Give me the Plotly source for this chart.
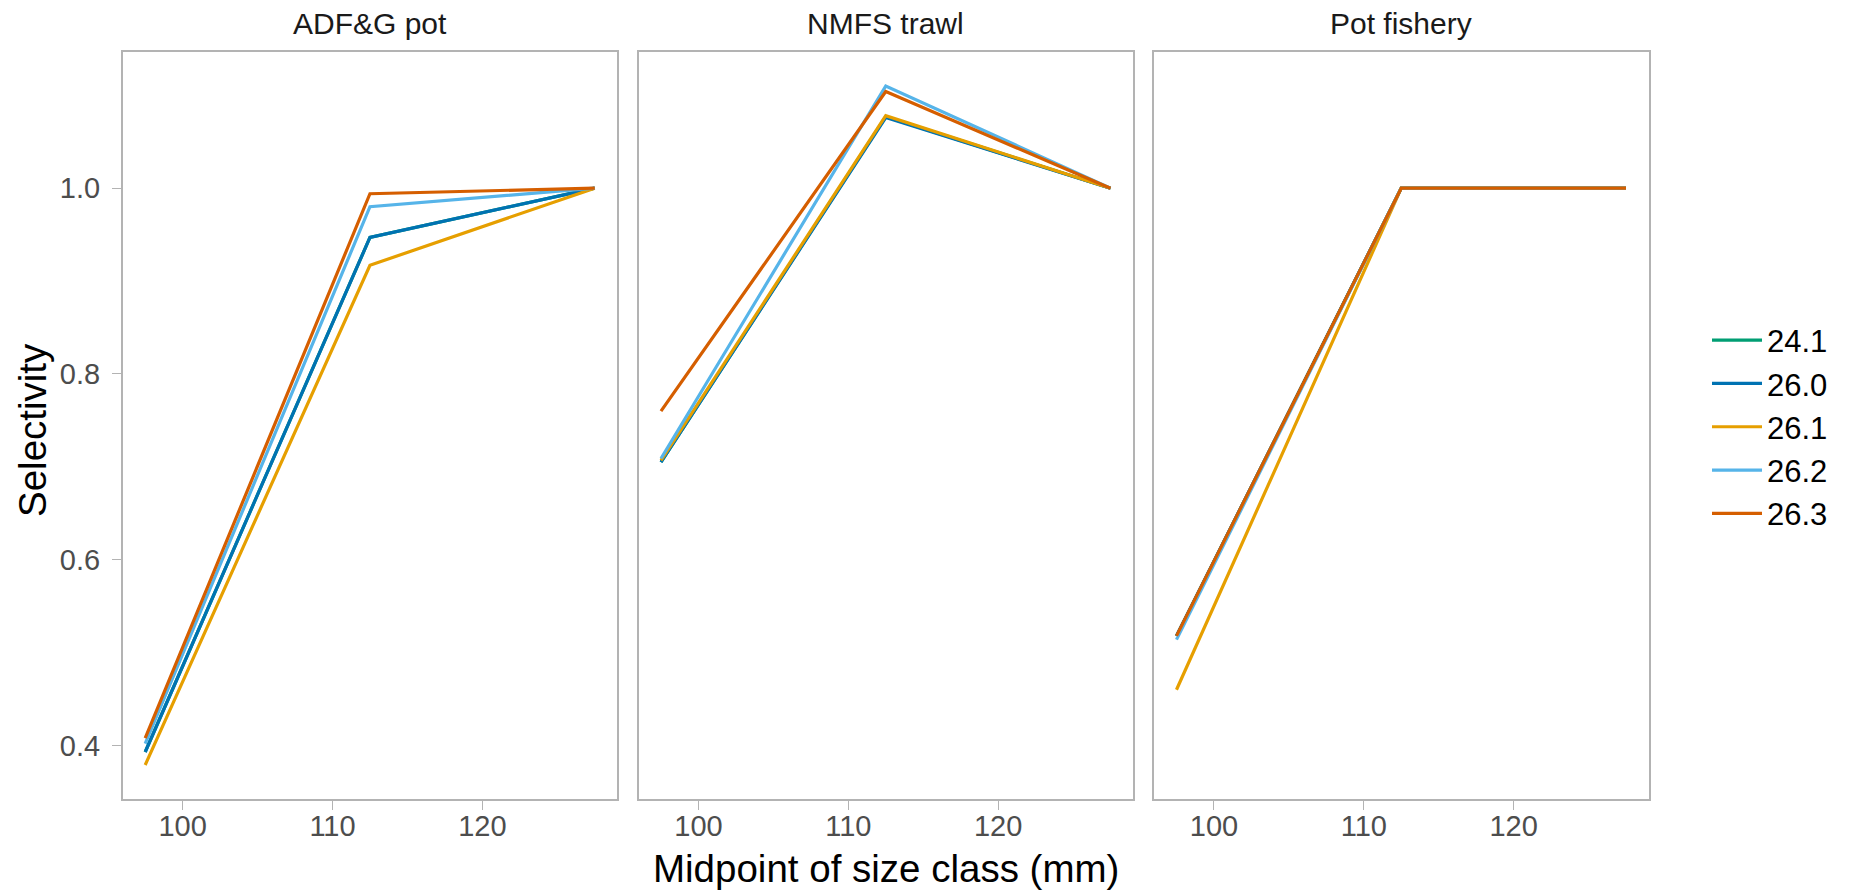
import plotly.graph_objects as go

# ---- data ----
size_mid = [97.5, 112.5, 127.5]
panels = ["ADF&G pot", "NMFS trawl", "Pot fishery"]
models = ["24.1", "26.0", "26.1", "26.2", "26.3"]
colors = ["#009E73", "#0072B2", "#E69F00", "#56B4E9", "#D55E00"]

adfg_241 = [0.393, 0.947, 1.0]
adfg_260 = [0.393, 0.947, 1.0]
adfg_261 = [0.379, 0.917, 1.0]
adfg_262 = [0.402, 0.980, 1.0]
adfg_263 = [0.408, 0.994, 1.0]

nmfs_241 = [0.705, 1.077, 1.0]
nmfs_260 = [0.705, 1.076, 1.0]
nmfs_261 = [0.707, 1.078, 1.0]
nmfs_262 = [0.709, 1.110, 1.0]
nmfs_263 = [0.760, 1.104, 1.0]

pot_241 = [0.518, 1.0, 1.0]
pot_260 = [0.518, 1.0, 1.0]
pot_261 = [0.460, 1.0, 1.0]
pot_262 = [0.514, 1.0, 1.0]
pot_263 = [0.518, 1.0, 1.0]

x_ticks = [100, 110, 120]
y_ticks = [0.4, 0.6, 0.8, 1.0]
y_ticklabels = ["0.4", "0.6", "0.8", "1.0"]

panel_data = [
    [adfg_241, adfg_260, adfg_261, adfg_262, adfg_263],
    [nmfs_241, nmfs_260, nmfs_261, nmfs_262, nmfs_263],
    [pot_241, pot_260, pot_261, pot_262, pot_263],
]

# ---- layout geometry ----
W, H = 1850, 894
FONT = "Liberation Sans, Arial, Helvetica, sans-serif"
px_left = [122.7, 638.5, 1154.0]
px_w = 494.5
py_top, py_bot = 52, 799

fig = go.Figure()
for p, series in enumerate(panel_data):
    xa = "x" if p == 0 else f"x{p+1}"
    ya = "y" if p == 0 else f"y{p+1}"
    for m, vals in enumerate(series):
        fig.add_trace(go.Scatter(
            x=size_mid, y=vals, mode="lines",
            line=dict(color=colors[m], width=3.2),
            name=models[m], legendgroup=models[m],
            showlegend=(p == 0),
            xaxis=xa, yaxis=ya,
        ))

axis_common = dict(
    showgrid=False, zeroline=False, showline=True, mirror=True,
    linecolor="#B3B3B3", linewidth=1.5,
    ticklen=9, tickwidth=1.2, tickcolor="#B3B3B3",
    tickfont=dict(family=FONT, size=29, color="#4D4D4D"),
)

layout = dict(
    width=W, height=H,
    margin=dict(l=0, r=0, t=0, b=0),
    paper_bgcolor="white", plot_bgcolor="white",
    font=dict(family=FONT, color="black"),
    legend=dict(
        x=1707 / W, y=1 - 427 / H, xanchor="left", yanchor="middle",
        font=dict(family=FONT, size=31, color="black"),
        bgcolor="rgba(0,0,0,0)", tracegroupgap=0, itemwidth=50,
    ),
    annotations=[],
)

for p in range(3):
    xk = "xaxis" if p == 0 else f"xaxis{p+1}"
    yk = "yaxis" if p == 0 else f"yaxis{p+1}"
    x0 = px_left[p] / W
    x1 = (px_left[p] + px_w) / W
    layout[xk] = dict(
        axis_common, domain=[x0, x1], range=[96.0, 129.0],
        tickvals=x_ticks, ticks="outside", ticklabelstandoff=-9,
        anchor="y" if p == 0 else f"y{p+1}",
    )
    layout[yk] = dict(
        axis_common, domain=[1 - py_bot / H, 1 - py_top / H],
        range=[0.3424, 1.1466], tickvals=y_ticks, ticktext=y_ticklabels,
        ticks="outside" if p == 0 else "",
        showticklabels=(p == 0), ticklabelstandoff=6,
        anchor="x" if p == 0 else f"x{p+1}",
    )
    layout["annotations"].append(dict(
        text=panels[p], xref="paper", yref="paper",
        x=(px_left[p] + px_w / 2) / W, y=1 - 24 / H,
        xanchor="center", yanchor="middle", showarrow=False,
        font=dict(family=FONT, size=30, color="#1A1A1A"),
    ))

layout["annotations"].append(dict(
    text="Midpoint of size class (mm)", xref="paper", yref="paper",
    x=(px_left[0] + px_left[2] + px_w) / 2 / W, y=1 - 868 / H,
    xanchor="center", yanchor="middle", showarrow=False,
    font=dict(family=FONT, size=38.5, color="black"),
))
layout["annotations"].append(dict(
    text="Selectivity", xref="paper", yref="paper",
    x=33 / W, y=1 - 430 / H, textangle=-90,
    xanchor="center", yanchor="middle", showarrow=False,
    font=dict(family=FONT, size=38.5, color="black"),
))

fig.update_layout(**layout)
fig.write_html("out.html")
